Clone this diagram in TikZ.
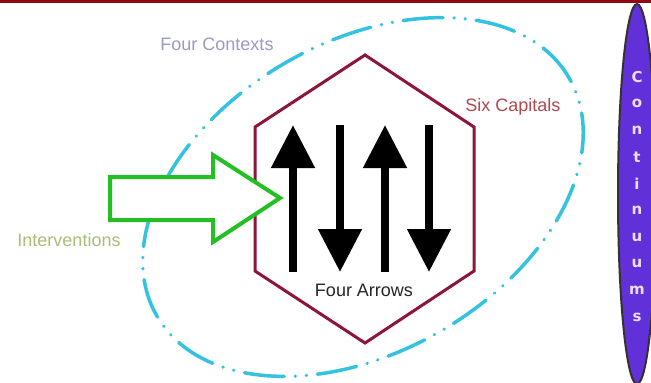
\documentclass[tikz,border=0pt]{standalone}
\usepackage{fontspec}
\setmainfont{Liberation Sans}
\newfontfamily\contfont{DejaVu Sans}
\usetikzlibrary{arrows.meta}
\definecolor{barred}{HTML}{8E0A14}
\definecolor{hexred}{HTML}{8C1538}
\definecolor{ctxcyan}{HTML}{33C2E0}
\definecolor{intgreen}{HTML}{22C022}
\definecolor{ctxtext}{HTML}{9A9AC6}
\definecolor{captext}{HTML}{B04850}
\definecolor{inttext}{HTML}{A8BE78}
\definecolor{contfill}{HTML}{6230D8}
\definecolor{contletter}{HTML}{EEDDF4}
\tikzset{
  lbl/.style={font=\fontsize{18}{20}\selectfont, inner sep=0pt},
  bigarrow/.style={line width=8pt, -{Triangle[width=42pt,length=43pt]}},
  contletterstyle/.style={font=\contfont\bfseries\fontsize{15}{16}\selectfont, text=contletter, inner sep=0pt}
}
\begin{document}
\begin{tikzpicture}[x=1pt,y=-1pt]
\useasboundingbox (0,0) rectangle (651,383);
\fill[white] (0,0) rectangle (651,383);
% top bar
\fill[barred] (0,0) rectangle (651,3);
% four contexts ellipse
\draw[ctxcyan, line width=3.5pt, line cap=round,
  dash pattern=on 40pt off 11pt on 0.1pt off 11pt on 0.1pt off 11pt,
  shift={(363,197)}, rotate=30] (0,0) ellipse [x radius=238pt, y radius=155pt];
% hexagon
\coordinate (h1) at (365,55);
\coordinate (h2) at (474,127);
\coordinate (h3) at (474,271);
\coordinate (h4) at (365,343);
\coordinate (h5) at (255,271);
\coordinate (h6) at (255,127);
\draw[hexred, line width=3pt, line join=miter] (h1) -- (h2) -- (h3) -- (h4) -- (h5) -- (h6) -- cycle;
% four arrows
\coordinate (a1b) at (293,272); \coordinate (a1t) at (293,125);
\coordinate (a2b) at (340,272); \coordinate (a2t) at (340,125);
\coordinate (a3b) at (385,272); \coordinate (a3t) at (385,125);
\coordinate (a4b) at (429,272); \coordinate (a4t) at (429,125);
\draw[bigarrow] (a1b) -- (a1t);
\draw[bigarrow] (a2t) -- (a2b);
\draw[bigarrow] (a3b) -- (a3t);
\draw[bigarrow] (a4t) -- (a4b);
% interventions arrow
\draw[intgreen, fill=white, line width=4pt, line join=miter]
  (110,177) -- (213,177) -- (213,155) -- (280,198) -- (213,242) -- (213,220) -- (110,220) -- cycle;
% labels
\node[lbl, text=ctxtext] (ctx) at (217,44) {Four Contexts};
\node[lbl, text=captext] (cap) at (513,107) {Six Capitals};
\node[lbl, text=inttext] (int) at (69,240) {Interventions};
\node[lbl, text=black!85] (arr) at (364,290) {Four Arrows};
% continuums
\draw[black!80, line width=2pt, fill=contfill] (637,194) ellipse [x radius=19pt, y radius=190pt];
\foreach \l [count=\i from 0] in {C,o,n,t,i,n,u,u,m,s}{
  \node[contletterstyle] (c\i) at (637,77+26.7*\i) {\l};
}
\end{tikzpicture}
\end{document}
